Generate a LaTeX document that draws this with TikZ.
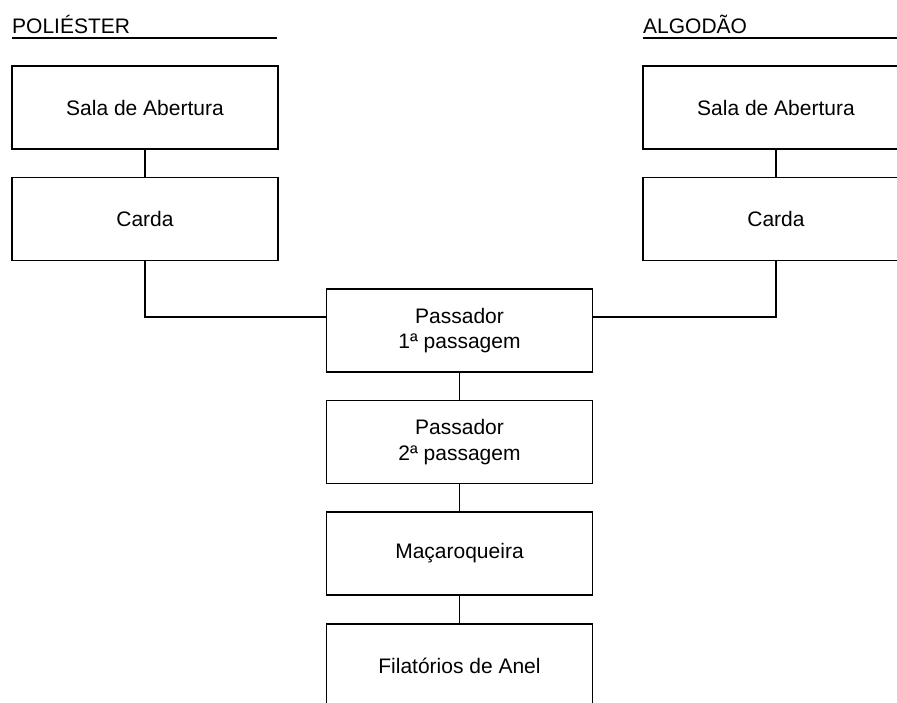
\documentclass[tikz,border=0pt]{standalone}
\usepackage{fontspec}
\setmainfont{Liberation Sans}
\usepackage{tikz}
\tikzset{>=latex}

\begin{document}
\begin{tikzpicture}[x=1pt, y=-1pt,
    every node/.style={font=\fontsize{21}{25.5}\selectfont},
    etapa/.style={draw, line width=1.6pt, minimum width=266pt, minimum height=83pt, inner sep=0pt, align=center},
    titulo/.style={anchor=base west, inner sep=0pt}]
      \useasboundingbox (0,0) rectangle (897,702);
      \clip (0,0) rectangle (897,702);
      % titulos
      \node[titulo] (tpol) at (12,33) {POLIÉSTER};
      \node[titulo] (talg) at (643,33) {ALGODÃO};
      \draw[line width=1.6pt] (12,38) -- (277,38);
      \draw[line width=1.6pt] (643,38) -- (897,38);
      % coluna do poliester
      \node[etapa] (salaP) at (145,107.5) {Sala de Abertura};
      \node[etapa] (cardaP) at (145,219) {Carda};
      % coluna do algodao
      \node[etapa] (salaA) at (776,107.5) {Sala de Abertura};
      \node[etapa] (cardaA) at (776,219) {Carda};
      % coluna central
      \node[etapa] (pass1) at (459.5,330.5) {Passador\\1ª passagem};
      \node[etapa] (pass2) at (459.5,442) {Passador\\2ª passagem};
      \node[etapa] (macar) at (459.5,553.5) {Maçaroqueira};
      \node[etapa] (filat) at (459.5,665.5) {Filatórios de Anel};
      \draw[line width=1.6pt] (salaP) -- (cardaP);
      \draw[line width=1.6pt] (salaA) -- (cardaA);
      \draw[line width=1.6pt] (cardaP.south) |- ([yshift=13.5pt]pass1.west);
      \draw[line width=1.6pt] (cardaA.south) |- ([yshift=13.5pt]pass1.east);
      \draw[line width=1.6pt] (pass1) -- (pass2);
      \draw[line width=1.6pt] (pass2) -- (macar);
      \draw[line width=1.6pt] (macar) -- (filat);
    \end{tikzpicture}
\end{document}
